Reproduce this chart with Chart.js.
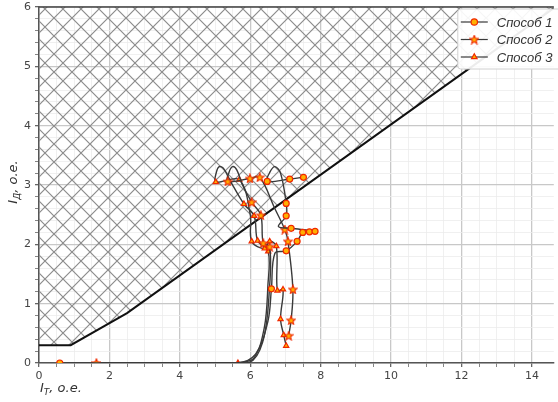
<!DOCTYPE html>
<html>
<head>
<meta charset="utf-8">
<script src="https://cdn.jsdelivr.net/npm/chart.js@4.4.1/dist/chart.umd.min.js"></script>
<style>
    html, body { margin: 0; padding: 0; background: #fff; }
    #wrap { width: 558px; height: 402px; position: relative; }
</style>
</head>
<body>
<div id="wrap"><canvas id="chart"></canvas></div>
<script>
// Boundary of the tripping characteristic (hatched above)
const boundaryX = [0, 0.9, 2.5, 14.62];
const boundaryY = [0.3, 0.3, 0.84, 5.98];

// Способ 1
const s1X = [0.59, 5.6, 6.15, 6.5, 6.6, 6.7, 7.02, 7.33, 7.49, 7.68, 7.84, 7.16, 6.8, 7.02, 7.02, 6.86, 6.7, 6.56, 6.48, 7.12, 7.51];
const s1Y = [0, 0, 0.15, 0.7, 1.25, 1.85, 1.89, 2.05, 2.20, 2.21, 2.22, 2.27, 2.3, 2.48, 2.69, 3.2, 3.31, 3.22, 3.06, 3.10, 3.13];
const s1Marked = [0, 4, 6, 7, 8, 9, 10, 11, 13, 14, 18, 19, 20];

// Способ 2
const s2X = [1.63, 5.9, 6.35, 6.55, 6.55, 6.37, 6.30, 6.04, 5.78, 5.62, 5.5, 5.4, 5.36, 5.99, 6.27, 6.7, 6.98, 7.07, 7.21, 7.16, 7.09];
const s2Y = [0, 0, 0.35, 1.3, 1.96, 2.02, 2.49, 2.71, 3.0, 3.25, 3.31, 3.22, 3.06, 3.11, 3.13, 2.6, 2.25, 2.05, 1.24, 0.72, 0.46];
const s2Marked = [0, 4, 5, 6, 7, 12, 13, 14, 16, 17, 18, 19, 20];

// Способ 3
const s3X = [5.65, 6.1, 6.4, 6.5, 6.51, 6.21, 6.11, 5.82, 5.45, 5.24, 5.12, 5.04, 5.02, 5.69, 6.0, 6.04, 6.41, 6.55, 6.74, 6.77, 6.93, 6.86, 6.95, 7.02];
const s3Y = [0, 0.08, 0.6, 1.3, 1.88, 2.06, 2.48, 2.68, 3.05, 3.28, 3.31, 3.22, 3.05, 3.09, 2.5, 2.05, 1.93, 2.05, 1.97, 1.22, 1.24, 0.74, 0.47, 0.29];
const s3Marked = [0, 4, 5, 6, 7, 12, 13, 15, 16, 17, 18, 19, 20, 21, 22, 23];

const seriesNames = ["Способ 1", "Способ 2", "Способ 3"];
const xMajorTicks = [0, 2, 4, 6, 8, 10, 12, 14];
const yMajorTicks = [0, 1, 2, 3, 4, 5, 6];

const lineColor = "#3a3a3a";
const markFill = "#ffb000";
const markEdge = "#f02800";

function toPoints(xs, ys) {
    return xs.map((x, i) => ({ x: x, y: ys[i] }));
}

function isMajor(v, list) {
    return list.some(t => Math.abs(t - v) < 1e-6);
}

// cross hatch
function makeHatch() {
    const c = document.createElement("canvas");
    c.width = 18; c.height = 18;
    const g = c.getContext("2d");
    g.strokeStyle = "#8c8c8c";
    g.lineWidth = 1.2;
    g.beginPath();
    g.moveTo(-1, -1); g.lineTo(19, 19);
    g.moveTo(19, -1); g.lineTo(-1, 19);
    g.stroke();
    return g.createPattern(c, "repeat");
}

// filled star marker
function makeStar() {
    const c = document.createElement("canvas");
    c.width = 10; c.height = 10;
    const g = c.getContext("2d");
    g.beginPath();
    for (let i = 0; i < 10; i++) {
        const r = i % 2 === 0 ? 4.5 : 2;
        const a = -Math.PI / 2 + i * Math.PI / 5;
        const px = 5 + r * Math.cos(a), py = 5.4 + r * Math.sin(a);
        if (i === 0) g.moveTo(px, py); else g.lineTo(px, py);
    }
    g.closePath();
    g.fillStyle = markFill;
    g.fill();
    g.strokeStyle = markEdge;
    g.lineWidth = 1.1;
    g.stroke();
    return c;
}

const starImg = makeStar();
const styles = ["circle", starImg, "triangle"];

function traj(name, xs, ys, marked, style) {
    return {
        label: name,
        data: toPoints(xs, ys),
        showLine: true,
        tension: 0.35,
        borderColor: lineColor,
        borderWidth: 1.4,
        pointStyle: style,
        pointRadius: xs.map((_, i) => marked.includes(i) ? 3 : 0),
        pointHoverRadius: 0,
        pointBackgroundColor: markFill,
        pointBorderColor: markEdge,
        pointBorderWidth: 1.2,
        order: 1
    };
}

// legend, axis titles and top spine
const extras = {
    id: "extras",
    afterDraw(chart) {
        const ctx = chart.ctx;
        const area = chart.chartArea;
        ctx.save();

        ctx.strokeStyle = "#444";
        ctx.lineWidth = 1.5;
        ctx.beginPath();
        ctx.moveTo(area.left, area.top);
        ctx.lineTo(area.right, area.top);
        ctx.stroke();

        // legend box
        const bx = area.right - 96, by = 9, bw = 110, bh = 60;
        ctx.fillStyle = "rgba(255,255,255,0.92)";
        ctx.strokeStyle = "#d0d0d0";
        ctx.lineWidth = 1;
        ctx.beginPath();
        ctx.roundRect(bx, by, bw, bh, 3);
        ctx.fill();
        ctx.stroke();
        seriesNames.forEach((name, i) => {
            const y = by + 13 + i * 17.5;
            ctx.strokeStyle = lineColor;
            ctx.lineWidth = 1.2;
            ctx.beginPath();
            ctx.moveTo(bx + 3, y);
            ctx.lineTo(bx + 30, y);
            ctx.stroke();
            ctx.fillStyle = markFill;
            ctx.strokeStyle = markEdge;
            ctx.lineWidth = 1.2;
            Chart.helpers.drawPoint(ctx, { pointStyle: styles[i], radius: 3.2, rotation: 0, borderWidth: 1.2 }, bx + 16.5, y);
            ctx.fillStyle = "#333";
            ctx.font = "italic 13px 'Liberation Sans'";
            ctx.textBaseline = "middle";
            ctx.textAlign = "left";
            ctx.fillText(name, bx + 39, y + 1);
        });

        // x title
        ctx.fillStyle = "#333";
        ctx.textAlign = "left";
        ctx.textBaseline = "alphabetic";
        let x = area.left + 1;
        const ty = 392;
        ctx.font = "italic 13px 'DejaVu Sans'";
        ctx.fillText("I", x, ty);
        x += ctx.measureText("I").width;
        ctx.font = "italic 9px 'DejaVu Sans'";
        ctx.fillText("T", x, ty + 3);
        x += ctx.measureText("T").width;
        ctx.font = "italic 13px 'DejaVu Sans'";
        ctx.fillText(", o.e.", x, ty);

        // y title
        ctx.translate(17, (area.top + area.bottom) / 2 - 3);
        ctx.rotate(-Math.PI / 2);
        ctx.font = "italic 13px 'DejaVu Sans'";
        const w1 = ctx.measureText("I").width;
        const w3 = ctx.measureText(", o.e.").width;
        ctx.font = "italic 9px 'DejaVu Sans'";
        const w2 = ctx.measureText("Д").width;
        let yx = -(w1 + w2 + w3) / 2;
        ctx.font = "italic 13px 'DejaVu Sans'";
        ctx.fillText("I", yx, 0);
        yx += w1;
        ctx.font = "italic 9px 'DejaVu Sans'";
        ctx.fillText("Д", yx, 3);
        yx += w2;
        ctx.font = "italic 13px 'DejaVu Sans'";
        ctx.fillText(", o.e.", yx, 0);

        ctx.restore();
    }
};

const ctx = document.getElementById("chart").getContext("2d");
new Chart(ctx, {
    type: "scatter",
    data: {
        datasets: [
            {
                label: "boundary",
                data: toPoints(boundaryX, boundaryY),
                showLine: true,
                tension: 0,
                borderColor: "#111",
                borderWidth: 2,
                pointRadius: 0,
                fill: "end",
                backgroundColor: makeHatch(),
                order: 5
            },
            traj(seriesNames[0], s1X, s1Y, s1Marked, styles[0]),
            traj(seriesNames[1], s2X, s2Y, s2Marked, styles[1]),
            traj(seriesNames[2], s3X, s3Y, s3Marked, styles[2])
        ]
    },
    options: {
        responsive: true,
        maintainAspectRatio: false,
        animation: false,
        layout: { padding: { top: 0, right: 0, left: 0, bottom: 0 } },
        plugins: {
            legend: { display: false },
            tooltip: { enabled: false }
        },
        scales: {
            x: {
                type: "linear",
                min: 0,
                max: 14.62,
                afterBuildTicks: s => { s.ticks = s.ticks.filter(t => Math.abs(t.value * 2 - Math.round(t.value * 2)) < 1e-6); },
                afterFit: s => { s.height = 39; s.paddingRight = 0; },
                ticks: {
                    stepSize: 0.5,
                    autoSkip: false,
                    maxRotation: 0,
                    padding: 3,
                    color: "#444",
                    font: { family: "DejaVu Sans", size: 11 },
                    callback: v => isMajor(v, xMajorTicks) ? String(Math.round(v)) : ""
                },
                grid: {
                    color: c => isMajor(c.tick.value, xMajorTicks) ? "#c8c8c8" : "#ececec",
                    lineWidth: c => isMajor(c.tick.value, xMajorTicks) ? 1.3 : 0.8,
                    tickColor: "#666",
                    tickLength: 4
                },
                border: { color: "#555", width: 1.5 }
            },
            y: {
                type: "linear",
                min: 0,
                max: 6,
                afterFit: s => { s.width = 39; s.paddingTop = 7; s.paddingBottom = 0; },
                ticks: {
                    stepSize: 0.2,
                    autoSkip: false,
                    padding: 4,
                    color: "#444",
                    font: { family: "DejaVu Sans", size: 11 },
                    callback: v => isMajor(v, yMajorTicks) ? String(Math.round(v)) : ""
                },
                grid: {
                    color: c => isMajor(c.tick.value, yMajorTicks) ? "#c8c8c8" : "#ececec",
                    lineWidth: c => isMajor(c.tick.value, yMajorTicks) ? 1.3 : 0.8,
                    tickColor: "#666",
                    tickLength: 4
                },
                border: { color: "#555", width: 1.5 }
            }
        }
    },
    plugins: [extras]
});
</script>
</body>
</html>
